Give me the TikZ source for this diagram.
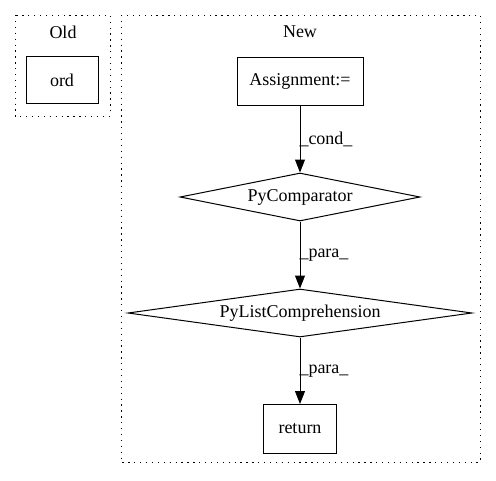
\documentclass[tikz,border=0pt]{standalone}
\usepackage{fontspec}
\setmainfont{Liberation Serif}
\usetikzlibrary{shapes.geometric,arrows.meta}
\begin{document}
\begin{tikzpicture}[x=1pt,y=-1pt,
  every node/.style={font=\fontsize{18}{21}\selectfont},
  cluster/.style={draw, line width=1pt, dash pattern=on 1.3pt off 4.6pt},
  box/.style={draw, line width=1pt, rectangle, inner sep=0pt},
  dia/.style={draw, line width=1pt, diamond, inner sep=0pt},
  edge/.style={draw, line width=1pt, -{Triangle[length=13pt,width=10pt]}},
  elabel/.style={right, inner sep=1pt}]
\useasboundingbox (0,0) rectangle (496,480);
% clusters
\draw[cluster] (15,15) rectangle (110,116);
\node (oldlab) at (63,32) {Old};
\draw[cluster] (121,15) rectangle (480,462);
\node (newlab) at (300,32) {New};
% nodes
\node[box, minimum width=72pt, minimum height=47pt] (ord) at (62,80) {ord};
\node[box, minimum width=126pt, minimum height=48pt] (assign) at (300,81) {Assignment:=};
\node[dia, aspect=5, minimum width=240pt, minimum height=48pt] (cmp) at (300,197) {};
\node at (cmp) {PyComparator};
\node[dia, aspect=7, minimum width=344pt, minimum height=48pt] (lc) at (300,313) {};
\node at (lc) {PyListComprehension};
\node[box, minimum width=73pt, minimum height=49pt] (ret) at (300,429) {return};
% edges
\draw[edge] (assign.south) -- (cmp.north) node[midway, elabel, xshift=-2pt] {\_cond\_};
\draw[edge] (cmp.south) -- (lc.north) node[midway, elabel, xshift=-2pt] {\_para\_};
\draw[edge] (lc.south) -- (ret.north) node[midway, elabel, xshift=-2pt] {\_para\_};
\end{tikzpicture}
\end{document}
